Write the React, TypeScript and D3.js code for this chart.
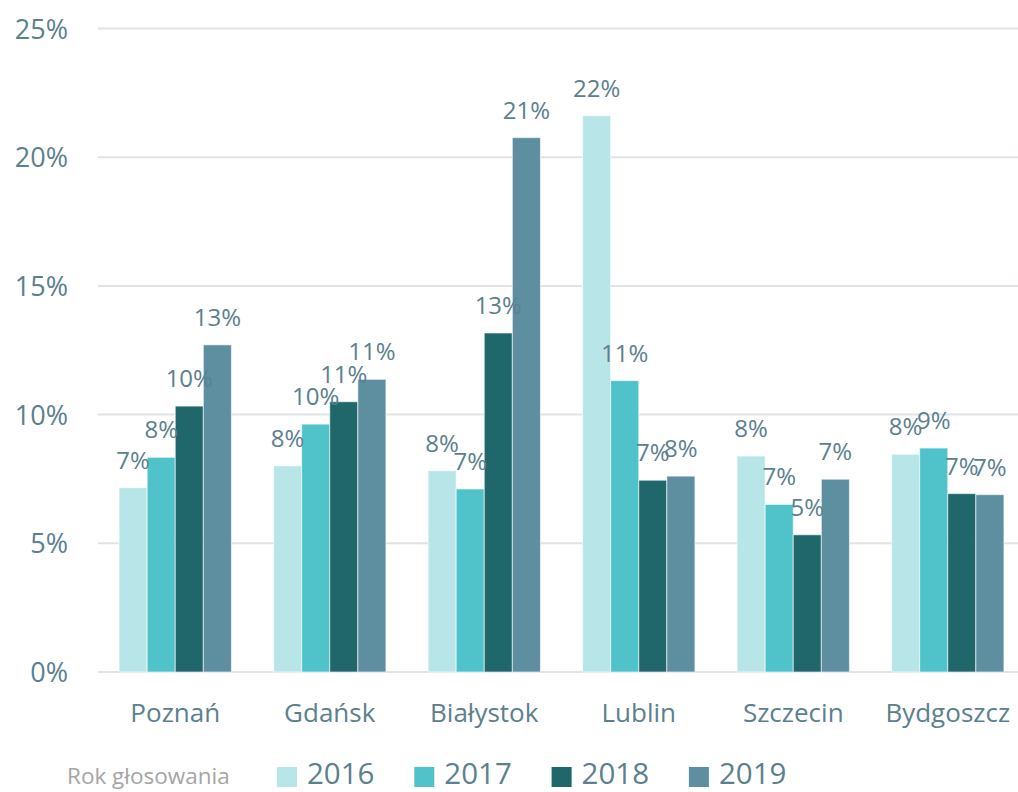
import { useEffect, useRef } from 'react';
import * as d3 from 'd3';

const cities = ['Poznań', 'Gdańsk', 'Białystok', 'Lublin', 'Szczecin', 'Bydgoszcz'];
const years = ['2016', '2017', '2018', '2019'];

// share of votes per city, one array per year (%)
const v2016 = [7.16, 8.01, 7.82, 21.61, 8.39, 8.46];
const v2017 = [8.34, 9.63, 7.11, 11.32, 6.51, 8.7];
const v2018 = [10.33, 10.5, 13.17, 7.45, 5.33, 6.93];
const v2019 = [12.71, 11.37, 20.76, 7.61, 7.49, 6.89];

const yTicks = [0, 5, 10, 15, 20, 25];
const colors = ['#b8e6e8', '#50c3ca', '#20676b', '#5e8fa0'];
const legendTitle = 'Rok głosowania';

export default function App() {
  const svgRef = useRef<SVGSVGElement | null>(null);

  useEffect(() => {
    if (!svgRef.current) return;
    const svg = d3.select(svgRef.current);
    svg.selectAll('*').remove();

    const width = 1018;
    const margin = { top: 28.5, left: 98, bottom: 672 };
    const font = '"Open Sans", sans-serif';
    const textColor = '#5b808e';

    const series = [v2016, v2017, v2018, v2019];
    const rows = cities.map((c, i) => ({
      city: c,
      vals: years.map((yr, j) => ({ year: yr, value: series[j][i] })),
    }));

    const x0 = d3.scaleBand<string>()
      .domain(cities)
      .range([margin.left, 1025])
      .paddingInner(0.273)
      .paddingOuter(0.1365);

    const x1 = d3.scaleBand<string>()
      .domain(years)
      .range([0, x0.bandwidth()]);

    const y = d3.scaleLinear()
      .domain([0, 25])
      .range([margin.bottom, margin.top]);

    const color = d3.scaleOrdinal<string, string>().domain(years).range(colors);

    // Grid lines
    svg.append('g')
      .selectAll('line')
      .data(yTicks)
      .join('line')
      .attr('x1', margin.left)
      .attr('x2', width)
      .attr('y1', d => y(d))
      .attr('y2', d => y(d))
      .attr('stroke', '#dfe4e8')
      .attr('stroke-width', 2);

    // Y tick labels
    svg.append('g')
      .attr('font-family', font)
      .attr('font-size', 27)
      .attr('fill', textColor)
      .attr('text-anchor', 'end')
      .selectAll('text')
      .data(yTicks)
      .join('text')
      .attr('x', 68)
      .attr('y', d => y(d) + 10)
      .text(d => `${d}%`);

    // Bars
    const groups = svg.append('g')
      .selectAll('g')
      .data(rows)
      .join('g')
      .attr('transform', d => `translate(${x0(d.city)},0)`);

    groups.selectAll('rect')
      .data(d => d.vals)
      .join('rect')
      .attr('x', d => x1(d.year)!)
      .attr('y', d => y(d.value))
      .attr('width', x1.bandwidth())
      .attr('height', d => y(0) - y(d.value))
      .attr('fill', d => color(d.year))
      .attr('stroke', 'rgba(255,255,255,0.6)')
      .attr('stroke-width', 1);

    // Value labels
    groups.selectAll('text')
      .data(d => d.vals)
      .join('text')
      .attr('x', d => x1(d.year)! + x1.bandwidth() / 2)
      .attr('y', d => y(d.value) - 19)
      .attr('text-anchor', 'middle')
      .attr('font-family', font)
      .attr('font-size', 24)
      .attr('fill', textColor)
      .text(d => `${Math.round(d.value)}%`);

    // Category labels
    svg.append('g')
      .attr('font-family', font)
      .attr('font-size', 26)
      .attr('fill', textColor)
      .attr('text-anchor', 'middle')
      .selectAll('text')
      .data(cities)
      .join('text')
      .attr('x', d => x0(d)! + x0.bandwidth() / 2)
      .attr('y', 722)
      .text(d => d);

    // Legend
    const legend = svg.append('g').attr('transform', 'translate(0,784)');
    legend.append('text')
      .attr('x', 67)
      .attr('y', 0)
      .attr('font-family', font)
      .attr('font-size', 22.5)
      .attr('fill', '#a5a5a5')
      .text(legendTitle);

    const items = legend.selectAll('g.item')
      .data(years)
      .join('g')
      .attr('class', 'item')
      .attr('transform', (d, i) => `translate(${277 + i * 137.3},0)`);

    items.append('rect')
      .attr('x', 0)
      .attr('y', -17)
      .attr('width', 20)
      .attr('height', 20)
      .attr('fill', d => color(d));

    items.append('text')
      .attr('x', 30)
      .attr('y', 0)
      .attr('font-family', font)
      .attr('font-size', 29.5)
      .attr('fill', textColor)
      .text(d => d);
  }, []);

  return (
    <svg
      ref={svgRef}
      width={1018}
      height={792}
      style={{ position: 'absolute', left: 0, top: 0, background: '#fff' }}
    />
  );
}
